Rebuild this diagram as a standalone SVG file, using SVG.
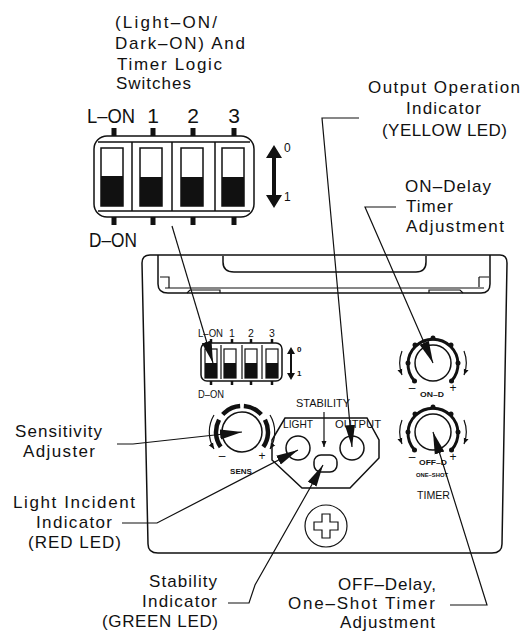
<svg xmlns="http://www.w3.org/2000/svg" width="525" height="633" viewBox="0 0 525 633">
<style>
text{font-family:"Liberation Sans",Arial,sans-serif;fill:#111}
.l{font-size:17px}
.big{font-size:21px}
.s{font-size:12px}
.m{font-size:10.5px}
.t{font-size:8px;font-weight:bold}
.c{text-anchor:middle}
.o{fill:none;stroke:#111;stroke-width:1.5}
.n{fill:none;stroke:#111;stroke-width:1.2}
.k{fill:#111;stroke:none}
.th{fill:none;stroke:#111;stroke-width:3}
.ar{fill:none;stroke:#111;stroke-width:1.2}
</style>
<defs>
<marker id="head" markerUnits="userSpaceOnUse" markerWidth="24" markerHeight="12" refX="22" refY="5.5" orient="auto"><path d="M0 .5L22 5.5L0 10.5Z" fill="#111"/></marker>
<marker id="sm" markerUnits="userSpaceOnUse" markerWidth="8" markerHeight="6" refX="6" refY="3" orient="auto"><path d="M0 .5L6 3L0 5.5Z" fill="#111"/></marker>
</defs>
<g id="panel">
<path class="o" d="M142 263Q142 255 150 255H500Q507 255 507 263L502 544Q502 553 492 553H158Q148 553 148 544Z"/>
<path class="o" d="M158 255V284Q158 293 168 293H481Q490 293 490 284V255"/>
<path class="n" d="M165 288H484"/>
<path class="o" d="M223 256V262Q223 272 234 272H416Q426 272 426 262V256"/>
<path class="n" d="M187 293L190 290H220V293M429 293V290H460L463 293"/>
<path class="n" d="M160 277H169V288M479 277H489M479 277V287"/>
</g>
<g id="top-dip-switch">
<rect class="o" x="94" y="136" width="160" height="81" rx="13"/>
<path class="o" d="M98 142H250M98 211H250M132 142V211M172 142V211M215 142V211"/>
<rect class="o" x="101" y="148" width="22" height="58"/><rect class="k" x="101" y="176" width="22" height="30"/>
<rect class="o" x="140" y="148" width="22" height="58"/><rect class="k" x="140" y="177" width="22" height="29"/>
<rect class="o" x="181" y="148" width="22" height="58"/><rect class="k" x="181" y="177" width="22" height="29"/>
<rect class="o" x="222" y="148" width="22" height="58"/><rect class="k" x="222" y="177" width="22" height="29"/>
<path d="M114 128V136M153 128V136M193 128V136M234 128V136M114 217V225M153 217V225M193 217V225M234 217V225" stroke="#111" stroke-width="5" fill="none"/>
<text class="big" x="87" y="123" textLength="48" lengthAdjust="spacingAndGlyphs">L–ON</text><text class="big c" x="153" y="123">1</text><text class="big c" x="193" y="123">2</text><text class="big c" x="234" y="123">3</text>
<text class="big" x="89" y="247" textLength="48" lengthAdjust="spacingAndGlyphs">D–ON</text>
<path class="k" d="M274 145L282 158H276V195H282L274 208L266 195H272V158H266Z"/>
<text class="s" x="284" y="152">0</text><text class="s" x="284" y="201">1</text>
</g>
<g id="small-dip-switch">
<rect class="o" x="201" y="343" width="81" height="38" rx="6"/>
<path class="n" d="M221 345V379M242 345V379M262 345V379"/>
<rect class="n" x="205" y="349" width="12" height="29"/><rect class="k" x="205" y="363" width="12" height="15"/>
<rect class="n" x="224" y="349" width="12" height="29"/><rect class="k" x="224" y="363" width="12" height="15"/>
<rect class="n" x="245" y="349" width="12" height="29"/><rect class="k" x="245" y="363" width="12" height="15"/>
<rect class="n" x="266" y="349" width="12" height="29"/><rect class="k" x="266" y="363" width="12" height="15"/>
<path d="M211 339V343M232 339V343M251 339V343M272 339V343M211 381V385M232 381V385M251 381V385M272 381V385" stroke="#111" stroke-width="2.5" fill="none"/>
<text class="m" x="198" y="337" textLength="25" lengthAdjust="spacingAndGlyphs">L–ON</text><text class="m c" x="232" y="337">1</text><text class="m c" x="251" y="337">2</text><text class="m c" x="272" y="337">3</text>
<text class="m" x="198" y="398" textLength="26" lengthAdjust="spacingAndGlyphs">D–ON</text>
<path class="k" d="M291 347L295 354H292V373H295L291 380L287 373H290V354H287Z"/>
<text class="t" x="297" y="352">0</text><text class="t" x="297" y="376">1</text>
</g>
<g id="sensitivity-knob">
<circle class="o" cx="242" cy="432" r="20"/>
<path d="M220.7 446.9A26 26 0 1 1 263.3 446.9" fill="none" stroke="#111" stroke-width="4.5" pathLength="250" stroke-dasharray="63 14 44 8 44 14 63"/>
<path class="ar" d="M214 415A33 33 0 0 0 214 449" marker-end="url(#sm)"/>
<path class="ar" d="M270 415A33 33 0 0 1 270 449" marker-end="url(#sm)"/>
<text class="s c" x="222" y="460">–</text><text class="s c" x="262" y="460">+</text>
<text class="t c" x="241" y="474">SENS</text>
</g>
<g id="indicator-plate">
<path class="o" d="M285 418H367L379 440V458L350 488H302L272 460V440Z"/>
<circle class="o" cx="298" cy="448" r="12"/>
<circle class="o" cx="352" cy="448" r="12"/>
<rect class="o" x="314" y="455" width="23" height="17" rx="7"/>
<text class="m" x="296" y="407" textLength="54" lengthAdjust="spacingAndGlyphs">STABILITY</text>
<text class="m" x="283" y="428" textLength="30" lengthAdjust="spacingAndGlyphs">LIGHT</text>
<text class="m" x="335" y="428" textLength="46" lengthAdjust="spacingAndGlyphs">OUTPUT</text>
<path class="n" d="M324 412V447" marker-end="url(#sm)"/>
</g>
<g id="screw">
<circle class="n" cx="326" cy="526" r="21"/>
<path class="n" d="M322 514H330V522H338V530H330V538H322V530H314V522H322Z"/>
</g>
<g id="on-delay-knob">
<circle class="o" cx="433" cy="363" r="18"/>
<path class="th" d="M414.5 381A25 25 0 1 1 451.5 381"/>
<g class="k"><circle cx="414.5" cy="381" r="2.5"/><circle cx="408" cy="363" r="2.5"/><circle cx="415" cy="345" r="2.5"/><circle cx="433" cy="338" r="2.5"/><circle cx="451" cy="345" r="2.5"/><circle cx="458" cy="363" r="2.5"/><circle cx="451.5" cy="381" r="2.5"/></g>
<path class="ar" d="M402 351A33 33 0 0 0 402 375" marker-end="url(#sm)"/>
<path class="ar" d="M464 351A33 33 0 0 1 464 375" marker-end="url(#sm)"/>
<text class="s c" x="412" y="392">–</text><text class="s c" x="453" y="392">+</text>
<text class="t" x="420" y="397" textLength="24" lengthAdjust="spacingAndGlyphs">ON–D</text>
</g>
<g id="off-delay-knob">
<circle class="o" cx="433" cy="432" r="18"/>
<path class="th" d="M414.5 450A25 25 0 1 1 451.5 450"/>
<g class="k"><circle cx="414.5" cy="450" r="2.5"/><circle cx="408" cy="432" r="2.5"/><circle cx="415" cy="414" r="2.5"/><circle cx="433" cy="407" r="2.5"/><circle cx="451" cy="414" r="2.5"/><circle cx="458" cy="432" r="2.5"/><circle cx="451.5" cy="450" r="2.5"/></g>
<path class="ar" d="M402 420A33 33 0 0 0 402 444" marker-end="url(#sm)"/>
<path class="ar" d="M464 420A33 33 0 0 1 464 444" marker-end="url(#sm)"/>
<text class="s c" x="412" y="461">–</text><text class="s c" x="453" y="461">+</text>
<text class="t" x="419" y="465" textLength="28" lengthAdjust="spacingAndGlyphs">OFF–D</text>
<text x="416" y="477" style="font-size:6px;font-weight:bold" textLength="32" lengthAdjust="spacingAndGlyphs">ONE–SHOT</text>
<text class="m" x="417" y="499" textLength="33" lengthAdjust="spacingAndGlyphs">TIMER</text>
</g>
<g id="connectors">
<path class="n" d="M172 226L213 363" marker-end="url(#head)"/>
<path class="n" d="M359 118H322L352 447" marker-end="url(#head)"/>
<path class="n" d="M396 207H365L433 363" marker-end="url(#head)"/>
<path class="n" d="M117 444H133L242 432" marker-end="url(#head)"/>
<path class="n" d="M122 523H157L298 450" marker-end="url(#head)"/>
<path class="n" d="M228 603H249L255 585L323 465" marker-end="url(#head)"/>
<path class="n" d="M450 605H487L433 432" marker-end="url(#head)"/>
</g>
<g id="labels">
<text class="l" x="115" y="28" textLength="102">(Light–ON/</text>
<text class="l" x="115" y="49" textLength="130">Dark–ON) And</text>
<text class="l" x="117" y="70" textLength="105">Timer Logic</text>
<text class="l" x="116" y="89" textLength="75">Switches</text>
<text class="l" x="368" y="93" textLength="152">Output Operation</text>
<text class="l" x="406" y="114" textLength="75">Indicator</text>
<text class="l" x="382" y="136" textLength="125">(YELLOW LED)</text>
<text class="l" x="405" y="192" textLength="86">ON–Delay</text>
<text class="l" x="406" y="212" textLength="47">Timer</text>
<text class="l" x="406" y="232" textLength="98">Adjustment</text>
<text class="l" x="15" y="437" textLength="87">Sensitivity</text>
<text class="l" x="23" y="457" textLength="72">Adjuster</text>
<text class="l" x="13" y="508" textLength="122">Light Incident</text>
<text class="l" x="36" y="528" textLength="76">Indicator</text>
<text class="l" x="28" y="548" textLength="93">(RED LED)</text>
<text class="l" x="149" y="587" textLength="68">Stability</text>
<text class="l" x="142" y="607" textLength="75">Indicator</text>
<text class="l" x="102" y="627" textLength="116">(GREEN LED)</text>
<text class="l" x="338" y="590" textLength="98">OFF–Delay,</text>
<text class="l" x="288" y="609" textLength="147">One–Shot Timer</text>
<text class="l" x="340" y="628" textLength="95">Adjustment</text>
</g>
</svg>
